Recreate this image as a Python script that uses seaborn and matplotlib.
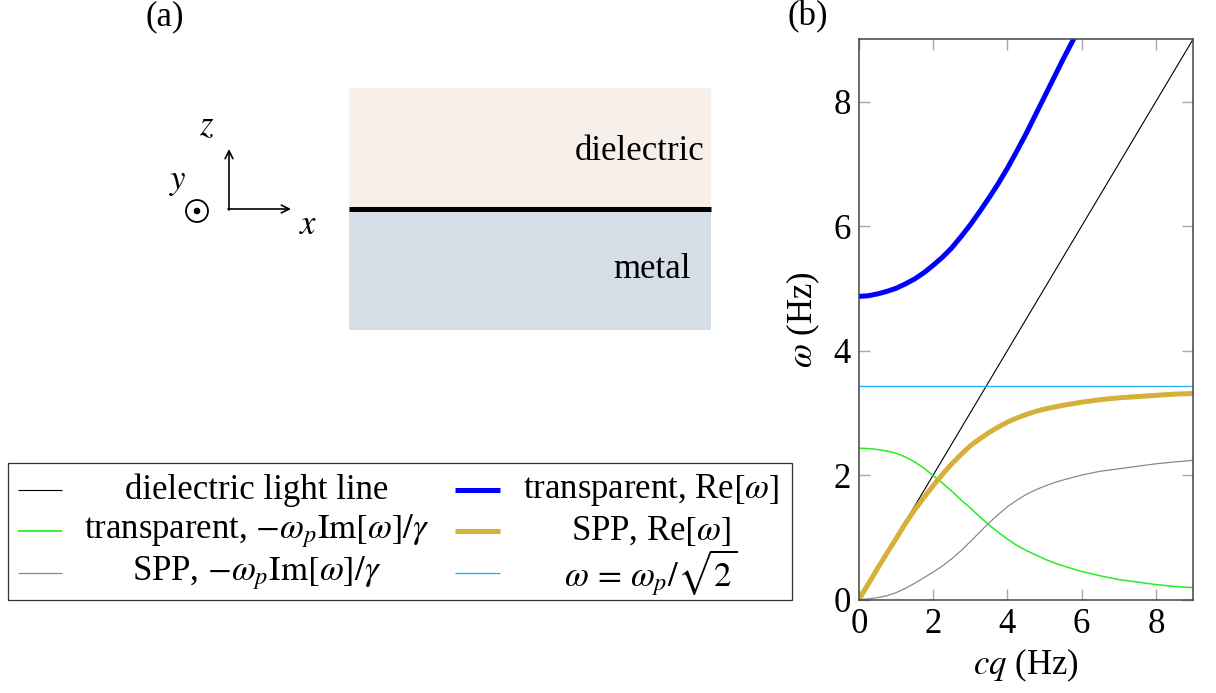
import numpy as np
import pandas as pd
import matplotlib
matplotlib.use("Agg")
import matplotlib.pyplot as plt
from matplotlib.patches import Rectangle, Circle
import seaborn as sns

# ---- dispersion data (cq and omega in Hz) ----
cq = [0.0, 0.25, 0.5, 0.75, 1.0, 1.25, 1.5, 1.75, 2.0, 2.25, 2.5, 2.75,
      3.0, 3.25, 3.5, 3.75, 4.0, 4.25, 4.5, 4.75, 5.0, 5.25, 5.5, 5.75,
      6.0, 6.5, 7.0, 7.5, 8.0, 8.5, 9.0]
spp_re = [0.00, 0.25, 0.50, 0.74, 0.98, 1.22, 1.44, 1.64, 1.83, 2.01, 2.18, 2.33,
          2.47, 2.58, 2.68, 2.77, 2.85, 2.915, 2.97, 3.02, 3.06, 3.09, 3.12, 3.145,
          3.17, 3.21, 3.24, 3.26, 3.28, 3.30, 3.31]
transparent_im = [2.43, 2.425, 2.41, 2.385, 2.35, 2.29, 2.21, 2.11, 1.99, 1.87, 1.74, 1.60,
                  1.47, 1.33, 1.20, 1.08, 0.97, 0.87, 0.79, 0.72, 0.65, 0.59, 0.54, 0.495,
                  0.45, 0.38, 0.32, 0.28, 0.24, 0.21, 0.19]
spp_im = [0.00, 0.01, 0.03, 0.06, 0.11, 0.18, 0.26, 0.35, 0.44, 0.54, 0.655, 0.785,
          0.93, 1.08, 1.23, 1.365, 1.49, 1.595, 1.685, 1.76, 1.82, 1.875, 1.92, 1.96,
          2.00, 2.06, 2.10, 2.14, 2.18, 2.21, 2.235]

cq_transparent = [0.0, 0.25, 0.5, 0.75, 1.0, 1.25, 1.5, 1.75, 2.0, 2.25, 2.5, 2.75,
                  3.0, 3.25, 3.5, 3.75, 4.0, 4.25, 4.5, 4.75, 5.0, 5.25, 5.5, 5.78]
transparent_re = [4.87, 4.88, 4.91, 4.95, 5.00, 5.07, 5.15, 5.25, 5.37, 5.50, 5.65, 5.83,
                  6.02, 6.23, 6.45, 6.68, 6.93, 7.20, 7.48, 7.78, 8.08, 8.38, 8.68, 9.00]

cq_light = [0.0, 9.0]
light_line = [0.0, 9.0]

omega_p = 4.857
omega_sp = omega_p / np.sqrt(2)

x_ticks = [0, 2, 4, 6, 8]
y_ticks = [0, 2, 4, 6, 8]

# ---- style ----
sns.set_theme(style="white")
plt.rcParams["font.family"] = ["Liberation Serif", "DejaVu Serif"]
plt.rcParams["mathtext.fontset"] = "stix"
plt.rcParams["text.color"] = "black"
plt.rcParams["axes.labelcolor"] = "black"
plt.rcParams["xtick.labelcolor"] = "black"
plt.rcParams["ytick.labelcolor"] = "black"

FS = 25

c_blue = "#0000FF"
c_gold = "#D6B03A"
c_green = "#22EE22"
c_gray = "#8A8A8A"
c_cyan = "#2AB4F0"
c_black = "#000000"

fig = plt.figure(figsize=(12.16, 6.93), dpi=100)

# overlay in pixel coordinates for the sketch, panel labels and legend
ov = fig.add_axes([0, 0, 1, 1], zorder=0)
ov.set_xlim(0, 1216)
ov.set_ylim(693, 0)
ov.axis("off")

# ---- panel (a): interface sketch ----
ov.add_patch(Rectangle((349, 88), 362, 121, facecolor="#F7F0EA", edgecolor="none"))
ov.add_patch(Rectangle((349, 209), 362, 121, facecolor="#D5DDE6", edgecolor="none"))
ov.plot([349, 711], [209, 209], color="black", lw=3.6, solid_capstyle="butt")
ov.text(704, 152, "dielectric", fontsize=FS, ha="right", va="center")
ov.text(652, 270, "metal", fontsize=FS, ha="center", va="center")

ov.annotate("", xy=(229, 149), xytext=(229, 210),
            arrowprops=dict(arrowstyle="->", lw=1.2, color="black",
                            shrinkA=0, shrinkB=0, mutation_scale=14))
ov.annotate("", xy=(291, 209), xytext=(228, 209),
            arrowprops=dict(arrowstyle="->", lw=1.2, color="black",
                            shrinkA=0, shrinkB=0, mutation_scale=14))
ov.add_patch(Circle((197, 211), 11, fill=False, lw=1.3, edgecolor="black"))
ov.add_patch(Circle((197, 211), 2.6, color="black"))
ov.text(207, 127, "$z$", fontsize=FS, ha="center", va="center")
ov.text(308, 225, "$x$", fontsize=FS, ha="center", va="center")
ov.text(178, 182, "$y$", fontsize=FS, ha="center", va="center")

ov.text(165, 17, "(a)", fontsize=FS, ha="center", va="center")
ov.text(808, 17, "(b)", fontsize=FS, ha="center", va="center")

# ---- legend box ----
ov.add_patch(Rectangle((8, 463), 784, 137, fill=False, edgecolor="#333333", lw=0.9))
legend_entries = [
    (0, 0, "dielectric light line", c_black, 0.8),
    (0, 1, r"transparent, $-\omega_p\mathrm{Im}[\omega]/\gamma$", c_green, 1.3),
    (0, 2, r"SPP, $-\omega_p\mathrm{Im}[\omega]/\gamma$", c_gray, 0.9),
    (1, 0, r"transparent, Re$[\omega]$", c_blue, 3.6),
    (1, 1, r"SPP, Re$[\omega]$", c_gold, 3.6),
    (1, 2, r"$\omega\,=\,\omega_p/\sqrt{2}$", c_cyan, 1.0),
]
col_handle = [(18, 62), (455, 500)]
col_text = [257, 651]
row_y = [490, 531, 573]
for col, row, label, color, lw in legend_entries:
    ov.plot(col_handle[col], [row_y[row]] * 2, color=color, lw=lw, solid_capstyle="butt")
    ov.text(col_text[col], row_y[row], label, fontsize=FS, ha="center", va="center")

# ---- panel (b): dispersion relation ----
ax = fig.add_axes([859 / 1216, 1 - 599.5 / 693, (1193 - 859) / 1216, (599.5 - 39.3) / 693],
                  zorder=2)
ax.patch.set_alpha(0)

sns.lineplot(x=cq_light, y=light_line, ax=ax, color=c_black, lw=0.8, sort=False, estimator=None)
sns.lineplot(x=cq, y=transparent_im, ax=ax, color=c_green, lw=1.1, sort=False, estimator=None)
sns.lineplot(x=cq, y=spp_im, ax=ax, color=c_gray, lw=0.9, sort=False, estimator=None)
ax.axhline(omega_sp, color=c_cyan, lw=1.0)
sns.lineplot(x=cq_transparent, y=transparent_re, ax=ax, color=c_blue, lw=3.6,
             sort=False, estimator=None)
sns.lineplot(x=cq, y=spp_re, ax=ax, color=c_gold, lw=3.6, sort=False, estimator=None)

ax.set_xlim(0, 9)
ax.set_ylim(0, 9)
ax.set_xticks(x_ticks)
ax.set_yticks(y_ticks)
ax.set_xticklabels([str(t) for t in x_ticks], fontsize=FS)
ax.set_yticklabels([str(t) for t in y_ticks], fontsize=FS)
ax.tick_params(direction="in", length=8, width=1.0, color="#A8A8A8",
               top=True, right=True, bottom=True, left=True, pad=6)
ax.set_xlabel(r"$cq$ (Hz)", fontsize=FS, labelpad=4)
ax.set_ylabel(r"$\omega$ (Hz)", fontsize=FS, labelpad=8)
for s in ax.spines.values():
    s.set_color("#444444")
    s.set_linewidth(1.1)
    s.set_visible(True)

fig.savefig("out.png", dpi=100)
